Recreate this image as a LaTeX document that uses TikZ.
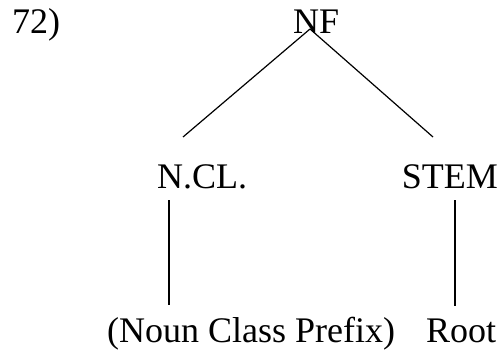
\documentclass[tikz,border=0pt]{standalone}
\usepackage{fontspec}
\setmainfont{Liberation Serif}
\begin{document}
\begin{tikzpicture}[x=1pt,y=-1pt,
  lbl/.style={inner sep=0pt,font=\fontsize{36}{42}\selectfont},
  edge/.style={line width=1.2pt}]
\useasboundingbox (0,0) rectangle (504,356);
\node[lbl,anchor=base west] (num) at (12,33) {72)};
\node[lbl,anchor=base west] (nf) at (293,33) {NF};
\node[lbl,anchor=base west] (ncl) at (157,188) {N.CL.};
\node[lbl,anchor=base east] (stem) at (498,188) {STEM};
\node[lbl,anchor=base west] (ncp) at (107,342) {(Noun Class Prefix)};
\node[lbl,anchor=base west] (root) at (426,342) {Root};
\coordinate (top) at (310,29);
\coordinate (l1) at (183,137);
\coordinate (r1) at (433,137);
\coordinate (l2) at (169,200);
\coordinate (l3) at (169,305);
\coordinate (r2) at (455,200);
\coordinate (r3) at (455,306);
\draw[edge] (top) -- (l1);
\draw[edge] (top) -- (r1);
\draw[edge] (l2) -- (l3);
\draw[edge] (r2) -- (r3);
\end{tikzpicture}
\end{document}
